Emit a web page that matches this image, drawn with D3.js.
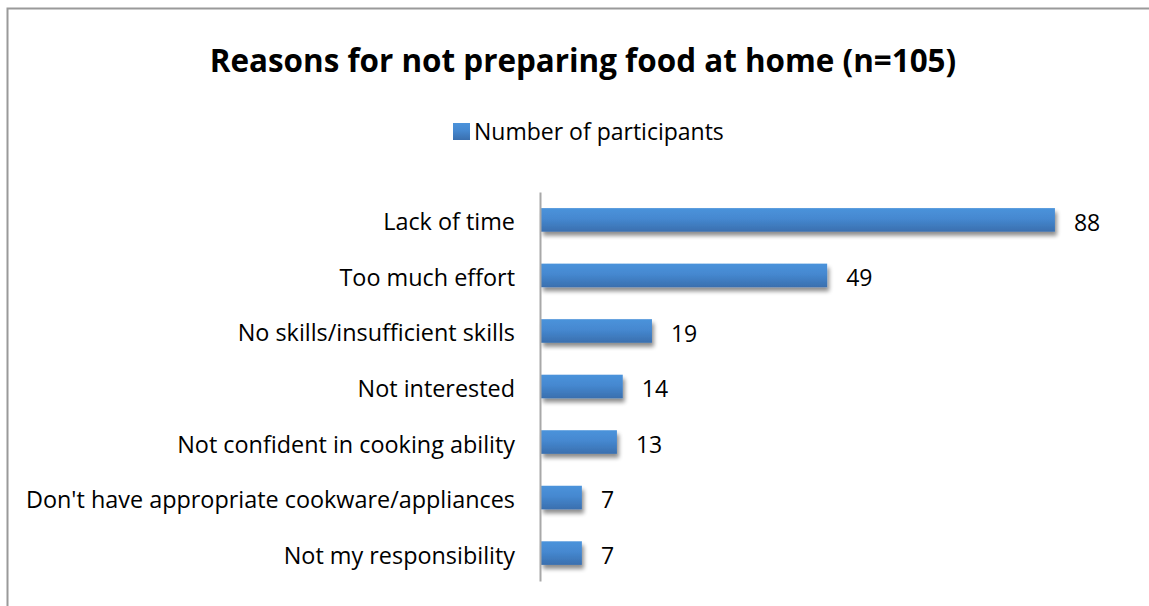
<!DOCTYPE html>
<html>
<head>
<meta charset="utf-8">
<script src="https://cdn.jsdelivr.net/npm/d3@7"></script>
<style>
  html, body { margin: 0; padding: 0; background: #fff; }
  svg { display: block; }
  text { font-family: "Open Sans", "Noto Sans", sans-serif; fill: #000; }
</style>
</head>
<body>
<svg id="chart" width="1149" height="606"></svg>
<script>
const categories = [
  "Lack of time",
  "Too much effort",
  "No skills/insufficient skills",
  "Not interested",
  "Not confident in cooking ability",
  "Don't have appropriate cookware/appliances",
  "Not my responsibility"
];
const participants = [88, 49, 19, 14, 13, 7, 7];
const seriesName = "Number of participants";
const chartTitle = "Reasons for not preparing food at home (n=105)";

const W = 1149, H = 606;
const FONT = "'Open Sans', 'Noto Sans', sans-serif";
const svg = d3.select("#chart");

// gradient + shadow for the bars
const defs = svg.append("defs");
const grad = defs.append("linearGradient")
  .attr("id", "barGrad").attr("x1", 0).attr("y1", 0).attr("x2", 0).attr("y2", 1);
grad.append("stop").attr("offset", "0%").attr("stop-color", "#4b93db");
grad.append("stop").attr("offset", "45%").attr("stop-color", "#4588d0");
grad.append("stop").attr("offset", "100%").attr("stop-color", "#3a6fae");

const shadow = defs.append("filter").attr("id", "barShadow")
  .attr("x", "-10%").attr("y", "-30%").attr("width", "130%").attr("height", "190%");
shadow.append("feGaussianBlur").attr("in", "SourceAlpha").attr("stdDeviation", 2.2).attr("result", "b");
shadow.append("feOffset").attr("in", "b").attr("dx", 2).attr("dy", 4).attr("result", "o");
shadow.append("feComponentTransfer").attr("in", "o").attr("result", "s")
  .append("feFuncA").attr("type", "linear").attr("slope", 0.45);
const merge = shadow.append("feMerge");
merge.append("feMergeNode").attr("in", "s");
merge.append("feMergeNode").attr("in", "SourceGraphic");

// chart area frame (left and top edges)
svg.append("path")
  .attr("d", `M7.5,${H} V8.5 H${W}`)
  .attr("fill", "none").attr("stroke", "#9a9a9a").attr("stroke-width", 2);

// title
svg.append("text")
  .attr("x", 583).attr("y", 72)
  .attr("text-anchor", "middle")
  .style("font-size", "31.4px").style("font-weight", "bold")
  .text(chartTitle);

// legend
const legend = svg.append("g").attr("transform", "translate(453,123)");
legend.append("rect").attr("width", 17).attr("height", 17).attr("fill", "url(#barGrad)");
legend.append("text").attr("x", 21).attr("y", 17)
  .style("font-size", "23px").text(seriesName);

// scales
const x = d3.scaleLinear().domain([0, 90]).range([541, 541 + 90 * 5.84]);
const y = d3.scaleBand().domain(categories).range([192, 581]).paddingInner(0.575).paddingOuter(0.29);

// bars
svg.append("g").selectAll("rect")
  .data(participants)
  .join("rect")
  .attr("x", x(0))
  .attr("y", (d, i) => y(categories[i]))
  .attr("width", d => x(d) - x(0))
  .attr("height", y.bandwidth())
  .attr("fill", "url(#barGrad)")
  .attr("filter", "url(#barShadow)");

// value labels
svg.append("g").selectAll("text")
  .data(participants)
  .join("text")
  .attr("x", d => x(d) + 19)
  .attr("y", (d, i) => y(categories[i]) + y.bandwidth() / 2 + 2.5)
  .attr("dy", "0.36em")
  .style("font-size", "23px")
  .text(d => d);

// category axis
const axis = d3.axisLeft(y).tickSize(0).tickPadding(25);
const ag = svg.append("g").attr("transform", `translate(${x(0) - 1},0)`).call(axis);
ag.select(".domain").attr("stroke", "#a8a8a8").attr("stroke-width", 2);
ag.selectAll(".tick text")
  .attr("dy", "0.45em")
  .style("font-family", FONT)
  .style("font-size", "23.4px").attr("fill", "#000");
</script>
</body>
</html>
